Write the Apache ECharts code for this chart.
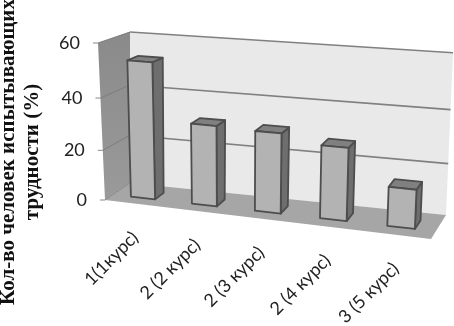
<!DOCTYPE html>
<html><head><meta charset="utf-8">
<style>html,body{margin:0;padding:0;background:#fff}#c{width:454px;height:326px}</style>
<script src="https://cdn.jsdelivr.net/npm/echarts@6/dist/echarts.min.js"></script>
</head><body><div id="c"></div>
<script>
const categories = ['1(1курс)', '2 (2 курс)', '2 (3 курс)', '2 (4 курс)', '3 (5 курс)'];
const values = [53, 31.5, 31, 28, 15];
const yTicks = [0, 20, 40, 60];
const yTitle = 'Кол-во человек испытывающих\nтрудности (%)';

// Box of the fake 3D plot: projection of the grid's unit square, front and back plane
const FBL=[105,200],FBR=[431,239],FTL=[98,43],FTR=[439,70];
const BBL=[130,183],BBR=[446,215],BTL=[130,32],BTR=[453,52.7];
const warp=(v,k)=>v/(1+k*(1-v));
const lerp=(a,b,f)=>[a[0]+(b[0]-a[0])*f,a[1]+(b[1]-a[1])*f];
function P(s,t,d){
  const u=warp(s,0.086), v=warp(t,0.08);
  const f=lerp(lerp(FBL,FBR,u),lerp(FTL,FTR,u),v);
  const b=lerp(lerp(BBL,BBR,u),lerp(BTL,BTR,u),v);
  return lerp(f,b,d);
}
const D0=0.32,D1=0.68,BAND=0.4;
const poly=(pts,fill,stroke,lw)=>({type:'polygon',shape:{points:pts},
  style:{fill:fill,stroke:stroke||null,lineWidth:lw||0,lineJoin:'round'}});
const line=(a,b,col,lw)=>({type:'line',shape:{x1:a[0],y1:a[1],x2:b[0],y2:b[1]},style:{stroke:col,lineWidth:lw}});
const unit=(api,params,pt)=>{const c=params.coordSys;return [(pt[0]-c.x)/c.width,(c.y+c.height-pt[1])/c.height];};

const option={
  animation:false,
  backgroundColor:'#fff',
  grid:{left:85,top:43,width:346,height:157,containLabel:false},
  xAxis:{type:'category',data:categories,show:false},
  yAxis:{type:'value',min:0,max:60,interval:20,
    axisLine:{show:false},axisTick:{show:false},splitLine:{show:false},
    axisLabel:{show:false}},
  graphic:[{type:'text',x:21,y:152,rotation:Math.PI/2,silent:true,
    style:{text:yTitle,align:'center',verticalAlign:'middle',
      fontFamily:'Liberation Serif',fontWeight:'bold',fontSize:21,lineHeight:24,fill:'#111'}}],
  series:[
    {type:'custom',coordinateSystem:'cartesian2d',silent:true,clip:false,z:1,data:[[0,0]],
     renderItem(){return {type:'group',children:[
       {type:'polygon',shape:{points:[P(0,0,0),P(0,1,0),P(0,1,1),P(0,0,1)]},style:{fill:{type:'linear',x:0,y:0,x2:0,y2:1,colorStops:[{offset:0,color:'#8a8a8a'},{offset:1,color:'#9a9a9a'}]}}},
       poly([P(0,0,1),P(0,1,1),P(1,1,1),P(1,0,1)],'#e9e9e9'),
       poly([P(0,0,0),P(0,0,1),P(1,0,1),P(1,0,0)],'#a6a6a6')
     ]};}},
    {type:'custom',coordinateSystem:'cartesian2d',silent:true,clip:false,z:2,
     data:yTicks.map(v=>[0,v]),
     renderItem(params,api){
       const t=unit(api,params,api.coord([0,api.value(1)]))[1];
       const a=P(0,t,0);
       const kids=[line(a,[a[0]-5,a[1]],'#8a8a8a',1),
                   line(a,P(0,t,1),t>0?'#7c7c7c':'#8a8a8a',1),
                   {type:'text',x:a[0]-18,y:a[1],style:{text:String(api.value(1)),align:'right',verticalAlign:'middle',
                     fontFamily:'Lato',fontSize:18,fill:'#222'}}];
       if(t>0) kids.push(line(P(0,t,1),P(1,t,1),'#808080',1.6));
       return {type:'group',children:kids};
     }},
    {type:'custom',coordinateSystem:'cartesian2d',silent:true,clip:false,z:3,
     data:values.map((v,i)=>[i,v]),
     renderItem(params,api){
       const c=params.coordSys;
       const p=api.coord([api.value(0),api.value(1)]);
       const w=api.size([1,0])[0]*BAND;
       const s0=(p[0]-w/2-c.x)/c.width,s1=(p[0]+w/2-c.x)/c.width;
       const t=unit(api,params,p)[1];
       const E='#4d4d4d',L=1.8;
       return {type:'group',children:[
         poly([P(s1,0,D0),P(s1,t,D0),P(s1,t,D1),P(s1,0,D1)],'#6e6e6e',E,L),
         poly([P(s0,t,D0),P(s0,t,D1),P(s1,t,D1),P(s1,t,D0)],'#808080',E,L),
         poly([P(s0,0,D0),P(s0,t,D0),P(s1,t,D0),P(s1,0,D0)],'#b3b3b3',E,L)
       ]};
     }},
    {type:'custom',coordinateSystem:'cartesian2d',silent:true,clip:false,z:4,
     data:categories.map((n,i)=>[i,0]),
     renderItem(params,api){
       const c=params.coordSys;
       const p=api.coord([api.value(0),0]);
       const a=P((p[0]-c.x)/c.width,0,0);
       return {type:'text',x:a[0]+0,y:a[1]+31,rotation:Math.PI/4,
         style:{text:categories[params.dataIndex],align:'right',verticalAlign:'middle',
                fontFamily:'Lato',fontSize:18,fill:'#222'}};
     }}
  ]
};
echarts.init(document.getElementById('c'),null,{renderer:'canvas'}).setOption(option);
</script></body></html>
